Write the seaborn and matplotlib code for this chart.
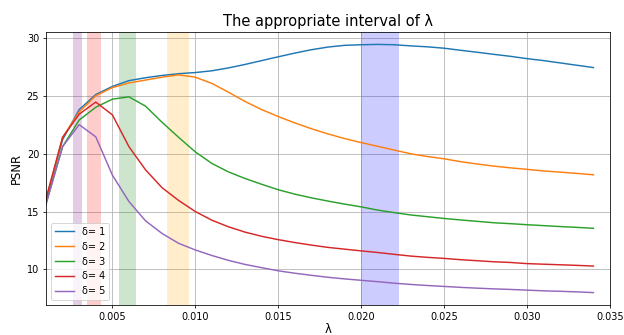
import numpy as np
import pandas as pd
import matplotlib
matplotlib.use("Agg")
import matplotlib.pyplot as plt
import seaborn as sns

# valores de lambda (passo 0.001)
lambdas = [0.001, 0.002, 0.003, 0.004, 0.005, 0.006, 0.007, 0.008, 0.009, 0.010,
           0.011, 0.012, 0.013, 0.014, 0.015, 0.016, 0.017, 0.018, 0.019, 0.020,
           0.021, 0.022, 0.023, 0.024, 0.025, 0.026, 0.027, 0.028, 0.029, 0.030,
           0.031, 0.032, 0.033, 0.034]

psnr_d1 = [16.0, 21.2, 23.8, 25.1, 25.8, 26.3, 26.55, 26.75, 26.9, 27.0,
           27.15, 27.4, 27.7, 28.03, 28.36, 28.68, 28.97, 29.2, 29.35, 29.4,
           29.43, 29.4, 29.3, 29.22, 29.1, 28.92, 28.75, 28.57, 28.4, 28.2,
           28.03, 27.83, 27.63, 27.43]
psnr_d2 = [16.0, 21.4, 23.6, 25.0, 25.7, 26.1, 26.35, 26.6, 26.8, 26.6,
           26.06, 25.3, 24.5, 23.8, 23.2, 22.65, 22.15, 21.7, 21.3, 20.95,
           20.63, 20.3, 19.98, 19.75, 19.55, 19.3, 19.1, 18.92, 18.77, 18.64,
           18.5, 18.4, 18.29, 18.17]
psnr_d3 = [15.7, 20.6, 22.9, 24.0, 24.7, 24.9, 24.1, 22.7, 21.4, 20.15,
           19.15, 18.42, 17.85, 17.35, 16.88, 16.5, 16.18, 15.9, 15.64, 15.4,
           15.12, 14.9, 14.7, 14.55, 14.4, 14.27, 14.15, 14.03, 13.95, 13.86,
           13.78, 13.7, 13.63, 13.55]
psnr_d4 = [16.1, 21.4, 23.4, 24.45, 23.35, 20.6, 18.6, 17.05, 15.95, 15.0,
           14.25, 13.68, 13.22, 12.86, 12.57, 12.32, 12.1, 11.9, 11.75, 11.6,
           11.46, 11.3, 11.15, 11.04, 10.95, 10.84, 10.75, 10.66, 10.6, 10.5,
           10.45, 10.4, 10.35, 10.29]
psnr_d5 = [15.6, 20.6, 22.5, 21.45, 18.15, 15.86, 14.2, 13.1, 12.25, 11.68,
           11.2, 10.78, 10.43, 10.15, 9.88, 9.67, 9.49, 9.32, 9.18, 9.06,
           8.94, 8.81, 8.7, 8.61, 8.53, 8.45, 8.38, 8.32, 8.27, 8.21,
           8.15, 8.11, 8.06, 8.0]

rotulos = ["δ= 1", "δ= 2", "δ= 3", "δ= 4", "δ= 5"]

# intervalos apropriados (faixas sombreadas)
faixas_inicio = [0.0026, 0.0035, 0.0054, 0.0083, 0.0200]
faixas_fim = [0.0032, 0.0043, 0.0064, 0.0096, 0.0223]
faixas_cor = ["purple", "red", "green", "orange", "blue"]

series = [psnr_d1, psnr_d2, psnr_d3, psnr_d4, psnr_d5]
df = pd.concat(
    [pd.DataFrame({"lambda": lambdas, "psnr": s, "delta": r}) for s, r in zip(series, rotulos)],
    ignore_index=True,
)

fig, ax = plt.subplots(figsize=(624 / 70, 335 / 70), dpi=70)
fig.subplots_adjust(left=0.0737, right=0.9776, bottom=0.0896, top=0.9045)

for ini, fim, cor in zip(faixas_inicio, faixas_fim, faixas_cor):
    ax.axvspan(ini, fim, color=cor, alpha=0.2, linewidth=0)

sns.lineplot(data=df, x="lambda", y="psnr", hue="delta", palette="tab10",
             linewidth=1.5, ax=ax)

ax.set_xlim(0.001, 0.035)
ax.grid(True, color="#b0b0b0", linewidth=0.8)
ax.set_axisbelow(True)
ax.set_title("The appropriate interval of λ", fontsize=15)
ax.set_xlabel("λ", fontsize=12, labelpad=1)
ax.set_ylabel("PSNR", fontsize=12)
ax.tick_params(labelsize=10)
sns.move_legend(ax, "lower left", title=None, fontsize=10)

plt.savefig("out.png", dpi=70)
plt.close()
